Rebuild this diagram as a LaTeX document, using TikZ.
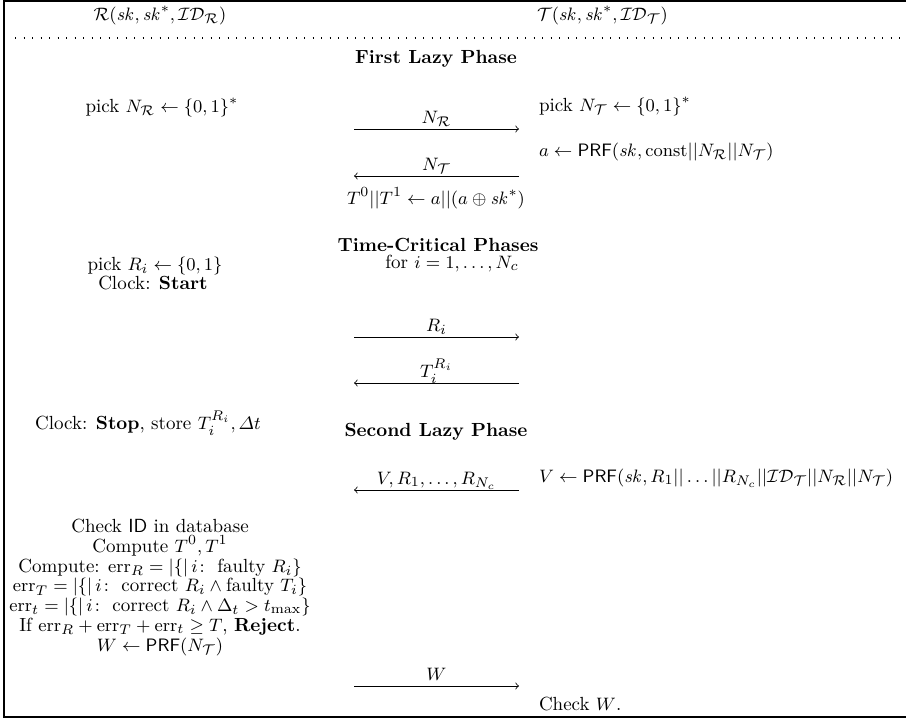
\documentclass[tikz,border=0pt]{standalone}
\usepackage{amsmath,amssymb}
\usepackage{tikz}

\begin{document}
\fontsize{9.5pt}{11.5pt}\selectfont
\begin{tikzpicture}[x=0.5pt, y=-0.5pt,
  every node/.style={inner sep=0pt, outer sep=0pt},
  lcol/.style={anchor=base},
  rcol/.style={anchor=base west},
  phase/.style={anchor=base, font=\bfseries},
  msg/.style={->, line width=0.4pt},
  msglbl/.style={anchor=base, yshift=3pt}]
\useasboundingbox (0,0) rectangle (906,720);
% === Frame and parties ===
\draw[line width=1pt] (3.5,0) -- (3.5,717.5);
\draw[line width=0.6pt] (3,1) -- (906,1);
\draw[line width=0.6pt] (3,717) -- (906,717);
\node[lcol] (reader) at (160,20) {$\mathcal{R}(\mathit{sk},\mathit{sk}^*,\mathcal{ID}_\mathcal{R})$};
\node[rcol] (tag) at (537,20) {$\mathcal{T}(\mathit{sk},\mathit{sk}^*,\mathcal{ID}_\mathcal{T})$};
\draw[line width=0.6pt, dash pattern=on 0.6pt off 3.65pt] (15,38) -- (900,38);

% === First lazy phase ===
\node[phase] (lazy1) at (436,63) {First Lazy Phase};
\node[lcol] (pickNR) at (162,112) {pick $N_\mathcal{R} \leftarrow \{0,1\}^*$};
\node[rcol] (pickNT) at (539,111) {pick $N_\mathcal{T} \leftarrow \{0,1\}^*$};
\coordinate (nrL) at (354,129);
\coordinate (nrR) at (519,129);
\draw[msg] (nrL) -- node[msglbl] (nrlbl) {$N_\mathcal{R}$} (nrR);
\node[rcol] (prfA) at (539,156) {$a \leftarrow \mathsf{PRF}(\mathit{sk}, \mathrm{const}||N_\mathcal{R}||N_\mathcal{T})$};
\coordinate (ntL) at (354,176);
\coordinate (ntR) at (519,176);
\draw[msg] (ntR) -- node[msglbl] (ntlbl) {$N_\mathcal{T}$} (ntL);
\node[lcol] (split) at (436,204) {$T^0||T^1 \leftarrow a||(a \oplus \mathit{sk}^*)$};

% === Time-critical phases ===
\node[phase] (fast) at (438,251) {Time-Critical Phases};
\node[lcol] (loop) at (452,268) {for $i = 1,\ldots,N_c$};
\node[lcol] (pickRi) at (155,270) {pick $R_i \leftarrow \{0,1\}$};
\node[lcol] (start) at (153,289) {Clock: \textbf{Start}};
\coordinate (riL) at (354,337);
\coordinate (riR) at (519,337);
\draw[msg] (riL) -- node[msglbl] (rilbl) {$R_i$} (riR);
\coordinate (tiL) at (354,383);
\coordinate (tiR) at (519,383);
\draw[msg] (tiR) -- node[msglbl] (tilbl) {$T_i^{R_i}$} (tiL);
\node[lcol] (stop) at (148,429) {Clock: \textbf{Stop}, store $T_i^{R_i}, \varDelta t$};

% === Second lazy phase ===
\node[phase] (lazy2) at (436,436) {Second Lazy Phase};
\node[rcol] (prfV) at (539,482) {$V \leftarrow \mathsf{PRF}(\mathit{sk}, R_1||\ldots||R_{N_c}||\mathcal{ID}_\mathcal{T}||N_\mathcal{R}||N_\mathcal{T})$};
\coordinate (vL) at (354,490);
\coordinate (vR) at (519,490);
\draw[msg] (vR) -- node[msglbl] (vlbl) {$V, R_1, \ldots, R_{N_c}$} (vL);
\node[anchor=north, align=center, font=\fontsize{9.5pt}{9.9pt}\selectfont] (verify) at (160,519) {%
  Check \textsf{ID} in database\\
  Compute $T^0, T^1$\\
  Compute: $\mathrm{err}_R = |\{|\,i\colon \text{ faulty } R_i\}$\\
  $\mathrm{err}_T = |\{|\,i\colon \text{ correct } R_i \wedge \text{faulty } T_i\}$\\
  $\mathrm{err}_t = |\{|\,i\colon \text{ correct } R_i \wedge \Delta_t > t_{\max}\}$\\
  If $\mathrm{err}_R + \mathrm{err}_T + \mathrm{err}_t \geq T$, \textbf{Reject}.\\
  $W \leftarrow \mathsf{PRF}(N_\mathcal{T})$};
\coordinate (wL) at (354,686);
\coordinate (wR) at (519,686);
\draw[msg] (wL) -- node[msglbl] (wlbl) {$W$} (wR);
\node[rcol] (checkW) at (539,710) {Check $W$.};

\end{tikzpicture}
\end{document}
